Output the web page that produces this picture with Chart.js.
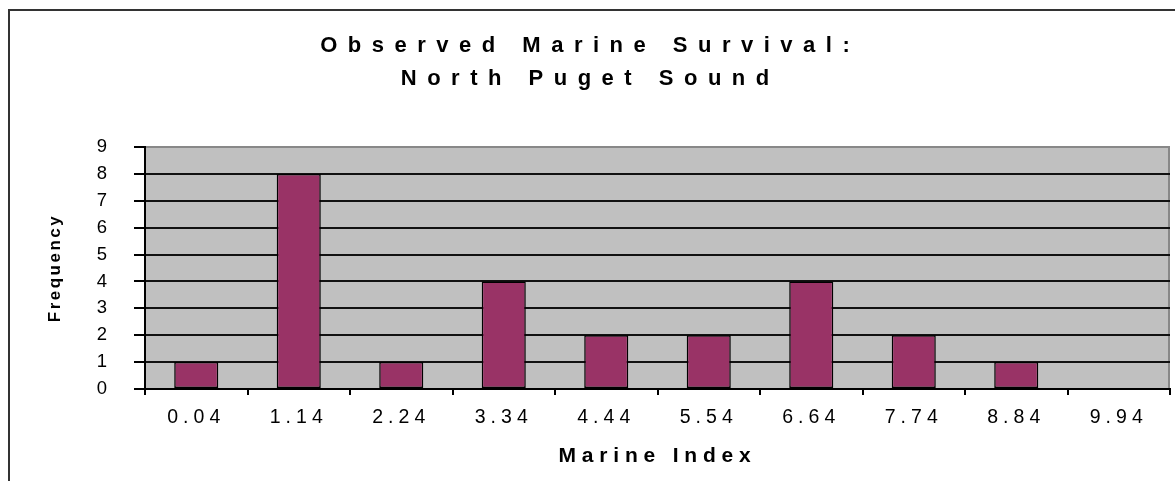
<!DOCTYPE html>
<html>
<head>
<meta charset="utf-8">
<script src="https://cdn.jsdelivr.net/npm/chart.js@4.4.0/dist/chart.umd.min.js"></script>
<style>
    html, body { margin: 0; padding: 0; background: #fff; overflow: hidden; }
    #frame { position: absolute; left: 8px; top: 9px; width: 1200px; height: 500px; border: 2px solid #333; }
    #chart { position: absolute; left: 0; top: 0; }
</style>
</head>
<body>
<div id="frame"></div>
<canvas id="chart" width="1175" height="481"></canvas>
<script>
'use strict';

const titleLines = ['Observed Marine Survival:', 'North Puget Sound'];
const categories = ['0.04', '1.14', '2.24', '3.34', '4.44', '5.54', '6.64', '7.74', '8.84', '9.94'];
const frequencies = [1, 8, 1, 4, 2, 2, 4, 2, 1, 0];
const xAxisTitle = 'Marine Index';
const yAxisTitle = 'Frequency';

const FONT = "'Liberation Sans', Arial, sans-serif";

// old Excel charts spread their letters out, canvas can do that with letterSpacing
const spacing = { title: 10.5, x: 5, y: 0, xTitle: 5.8, yTitle: 2.5 };

function withSpacing(ctx, px, shift, fn) {
    ctx.save();
    ctx.letterSpacing = px + 'px';
    ctx.translate(shift, 0);
    fn();
    ctx.restore();
}

const scaleProto = Chart.Scale.prototype;
const drawLabels = scaleProto.drawLabels;
scaleProto.drawLabels = function (chartArea) {
    withSpacing(this.ctx, spacing[this.id] || 0, 0, () => drawLabels.call(this, chartArea));
};
const drawScaleTitle = scaleProto.drawTitle;
scaleProto.drawTitle = function () {
    withSpacing(this.ctx, spacing[this.id + 'Title'] || 0, 0, () => drawScaleTitle.call(this));
};
const titleProto = Chart.Title._element.prototype;
const drawChartTitle = titleProto.draw;
titleProto.draw = function () {
    withSpacing(this.ctx, spacing.title, spacing.title / 2, () => drawChartTitle.call(this));
};

const plotArea = {
    id: 'plotArea',
    beforeDraw(chart) {
        const { ctx, chartArea: a } = chart;
        ctx.save();
        ctx.fillStyle = '#c0c0c0';
        ctx.fillRect(a.left, a.top, a.right - a.left, a.bottom - a.top);
        ctx.strokeStyle = '#888';
        ctx.lineWidth = 2;
        ctx.beginPath();
        ctx.moveTo(a.right - 1, a.top);
        ctx.lineTo(a.right - 1, a.bottom);
        ctx.stroke();
        ctx.restore();
    }
};

new Chart(document.getElementById('chart'), {
    type: 'bar',
    data: {
        labels: categories,
        datasets: [{
            data: frequencies,
            backgroundColor: '#993366',
            borderColor: '#000',
            borderWidth: 1.5,
            borderSkipped: false,
            barPercentage: 0.43,
            categoryPercentage: 1
        }]
    },
    options: {
        responsive: false,
        animation: false,
        layout: { padding: { left: 0, right: 5, top: 0, bottom: 0 } },
        plugins: {
            legend: { display: false },
            tooltip: { enabled: false },
            title: {
                display: true,
                text: titleLines,
                color: '#000',
                font: { family: FONT, size: 22, weight: 'bold', lineHeight: 1.5 },
                padding: { top: 29, bottom: 52 }
            }
        },
        scales: {
            x: {
                grid: { offset: true, drawOnChartArea: false, tickLength: 6, color: '#000', lineWidth: 2 },
                border: { color: '#000', width: 2 },
                ticks: { color: '#000', font: { family: FONT, size: 19.5 }, padding: 11, autoSkip: false, maxRotation: 0 },
                title: {
                    display: true,
                    text: xAxisTitle,
                    color: '#000',
                    font: { family: FONT, size: 21, weight: 'bold' },
                    padding: { top: 0, bottom: 12 }
                },
                afterFit(scale) { scale.height = 92; }
            },
            y: {
                min: 0,
                max: 9,
                ticks: { stepSize: 1, color: '#000', font: { family: FONT, size: 18.5 }, padding: 27 },
                grid: {
                    color: (c) => c.tick && c.tick.value === 9 ? '#888' : '#111',
                    tickColor: '#000',
                    lineWidth: 2,
                    tickLength: 11
                },
                border: { color: '#000', width: 2 },
                title: {
                    display: true,
                    text: yAxisTitle,
                    color: '#000',
                    font: { family: FONT, size: 17, weight: 'bold' },
                    padding: { top: 45, bottom: 0 }
                },
                afterFit(scale) { scale.width = 145; }
            }
        }
    },
    plugins: [plotArea]
});
</script>
</body>
</html>
